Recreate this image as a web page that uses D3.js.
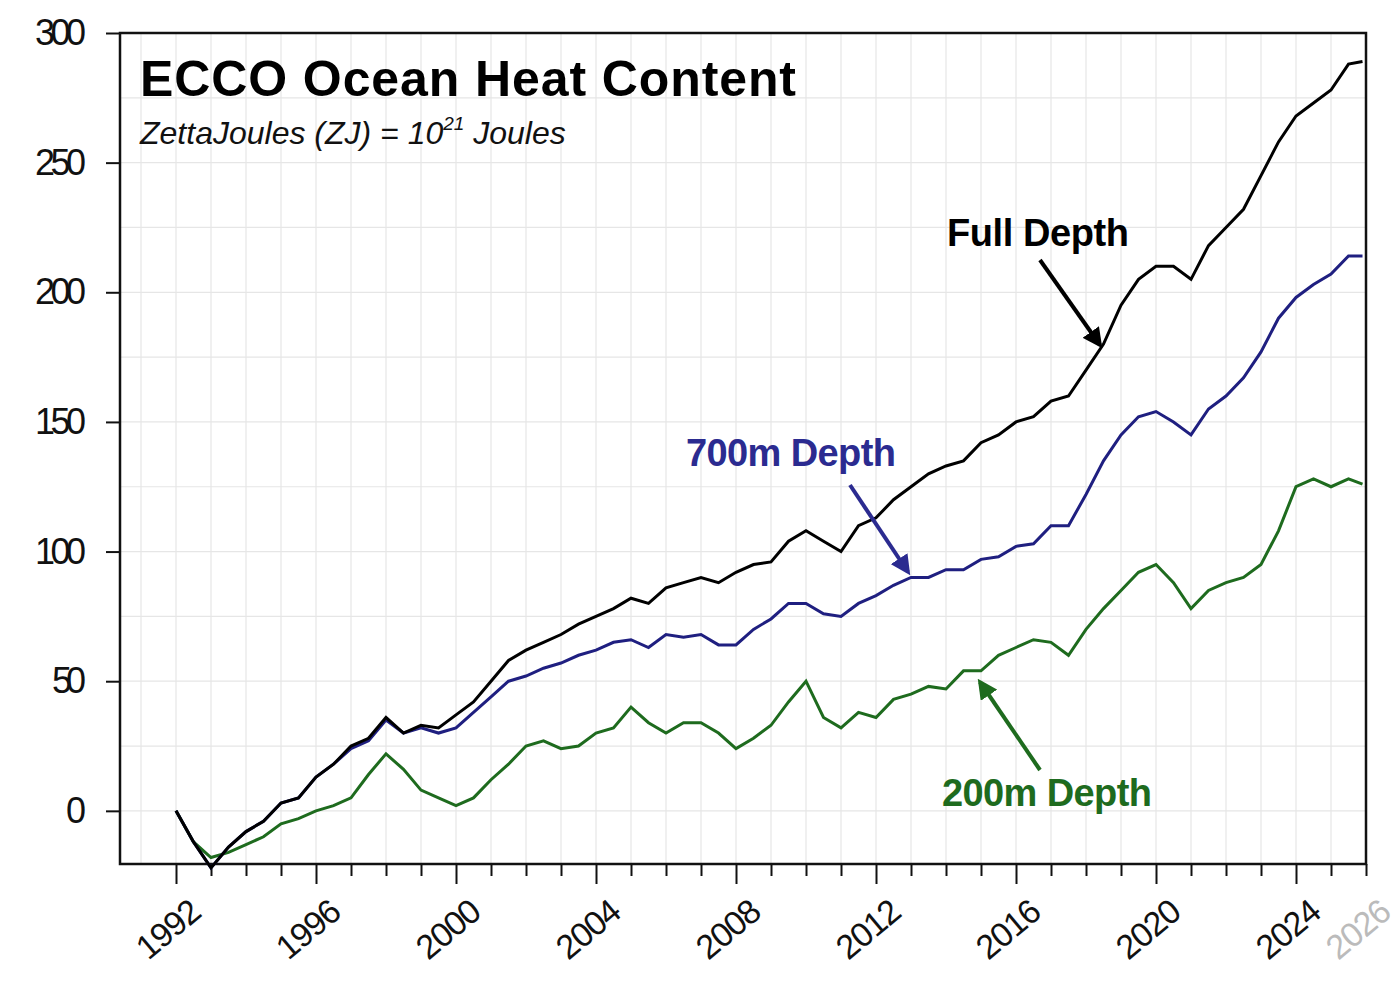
<!DOCTYPE html>
<html>
<head>
<script src="https://d3js.org/d3.v7.min.js"></script>
<style>body{margin:0;background:#fff}</style>
</head>
<body>
<svg id="chart"></svg>
<script>
// half-year sample times
const years = d3.range(1992, 2026, 0.5).concat([2025.9]);
const fullDepth = [0,-12,-22,-14,-8,-4,3,5,13,18,25,28,36,30,33,32,37,42,50,58,62,65,68,72,75,78,82,80,86,88,90,88,92,95,96,104,108,104,100,110,113,120,125,130,133,135,142,145,150,152,158,160,170,180,195,205,210,210,205,218,225,232,245,258,268,273,278,288,289];
const depth700 = [0,-12,-22,-14,-8,-4,3,5,13,18,24,27,35,30,32,30,32,38,44,50,52,55,57,60,62,65,66,63,68,67,68,64,64,70,74,80,80,76,75,80,83,87,90,90,93,93,97,98,102,103,110,110,122,135,145,152,154,150,145,155,160,167,177,190,198,203,207,214,214];
const depth200 = [0,-12,-18,-16,-13,-10,-5,-3,0,2,5,14,22,16,8,5,2,5,12,18,25,27,24,25,30,32,40,34,30,34,34,30,24,28,33,42,50,36,32,38,36,43,45,48,47,54,54,60,63,66,65,60,70,78,85,92,95,88,78,85,88,90,95,108,125,128,125,128,126];
const yTicks = [0, 50, 100, 150, 200, 250, 300];
const xLabels = [1992, 1996, 2000, 2004, 2008, 2012, 2016, 2020, 2024, 2026];

const W = 1400, H = 992;
const L = 120, R = 1366, T = 33, B = 864;
const font = "'Liberation Sans',sans-serif";

const x = d3.scaleLinear().domain([1990.4, 2026]).range([L, R]);
const y = d3.scaleLinear().domain([-20.5, 300]).range([B, T]);

const svg = d3.select('#chart').attr('width', W).attr('height', H);

// grid
svg.append('g').selectAll('line').data(d3.range(1991, 2026))
  .join('line').attr('x1', d => x(d)).attr('x2', d => x(d)).attr('y1', T).attr('y2', B)
  .attr('stroke', '#e6e6e6').attr('stroke-width', 1.2);
svg.append('g').selectAll('line').data(d3.range(0, 301, 25))
  .join('line').attr('x1', L).attr('x2', R).attr('y1', d => y(d)).attr('y2', d => y(d))
  .attr('stroke', '#e6e6e6').attr('stroke-width', 1.2);

// axes
const yAxis = svg.append('g').attr('transform', `translate(${L},0)`)
  .call(d3.axisLeft(y).tickValues(yTicks).tickSize(14).tickPadding(6));
yAxis.select('.domain').remove();
yAxis.selectAll('line').attr('stroke', '#111').attr('stroke-width', 2);
yAxis.selectAll('text').attr('font-family', font).attr('font-size', 36).attr('fill', '#111')
  .attr('transform', function () { return 'translate(-14,0)'; })
  .attr('textLength', function () { return this.textContent.length * 17; });

const xAxis = svg.append('g').attr('transform', `translate(0,${B})`)
  .call(d3.axisBottom(x).tickValues(d3.range(1992, 2027)).tickSize(12).tickFormat(''));
xAxis.select('.domain').remove();
xAxis.selectAll('line').attr('stroke', '#111').attr('stroke-width', 2)
  .attr('y2', d => d % 4 === 0 ? 20 : 12);

svg.append('g').selectAll('text').data(xLabels).join('text')
  .attr('transform', d => `translate(${x(d) + 10},${B + 30}) rotate(-40)`)
  .attr('text-anchor', 'end').attr('dy', '0.8em')
  .attr('font-family', font).attr('font-size', 34).attr('textLength', 72)
  .attr('fill', d => d === 2026 ? '#bbb' : '#111').text(d => d);

svg.append('rect').attr('x', L).attr('y', T).attr('width', R - L).attr('height', B - T)
  .attr('fill', 'none').attr('stroke', '#111').attr('stroke-width', 2.5);

// lines
const line = vals => d3.line().x((d, i) => x(years[i])).y(d => y(d))(vals);
[[depth200, '#1e6b1e'], [depth700, '#1f1f80'], [fullDepth, '#000']].forEach(([v, c]) => {
  svg.append('path').attr('d', line(v)).attr('fill', 'none').attr('stroke', c).attr('stroke-width', 3);
});

// titles
svg.append('text').attr('x', 140).attr('y', 96).attr('font-family', font)
  .attr('font-weight', 'bold').attr('font-size', 50).attr('fill', '#000')
  .attr('textLength', 656).text('ECCO Ocean Heat Content');
const sub = svg.append('text').attr('x', 140).attr('y', 144).attr('font-family', font)
  .attr('font-style', 'italic').attr('font-size', 32).attr('fill', '#111');
sub.append('tspan').text('ZettaJoules (ZJ) = 10');
sub.append('tspan').attr('font-size', 19).attr('dy', -14).text('21');
sub.append('tspan').attr('dy', 14).text(' Joules');

// annotations
const defs = svg.append('defs');
function arrow(id, color) {
  defs.append('marker').attr('id', id).attr('viewBox', '0 0 10 10').attr('refX', 8).attr('refY', 5)
    .attr('markerWidth', 5).attr('markerHeight', 5).attr('orient', 'auto')
    .append('path').attr('d', 'M0,0L10,5L0,10z').attr('fill', color);
}
arrow('ab', '#000'); arrow('an', '#2b2b90'); arrow('ag', '#1e6b1e');
function note(text, tx, ty, color, x1, y1, x2, y2, m, len) {
  svg.append('text').attr('x', tx).attr('y', ty).attr('font-family', font).attr('font-weight', 'bold')
    .attr('font-size', 38).attr('fill', color).attr('textLength', len).text(text);
  svg.append('line').attr('x1', x1).attr('y1', y1).attr('x2', x2).attr('y2', y2)
    .attr('stroke', color).attr('stroke-width', 4).attr('marker-end', `url(#${m})`);
}
note('Full Depth', 947, 246, '#000', 1040, 260, 1100, 345, 'ab', 182);
note('700m Depth', 686, 466, '#2b2b90', 850, 485, 908, 572, 'an', 210);
note('200m Depth', 942, 806, '#1e6b1e', 1040, 770, 980, 682, 'ag', 210);
</script>
</body>
</html>
